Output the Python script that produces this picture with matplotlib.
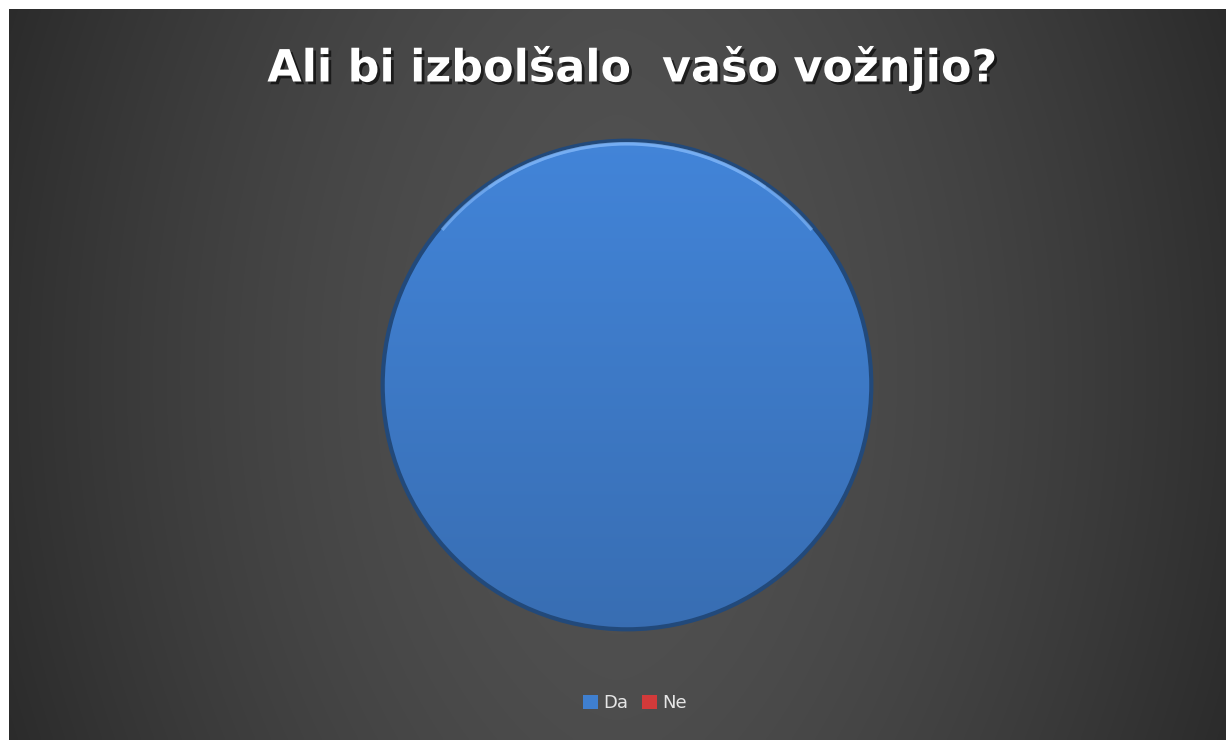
import matplotlib
matplotlib.use("Agg")
import matplotlib.pyplot as plt
import matplotlib.patheffects as pe
from matplotlib.patches import Patch, Circle, Arc
import numpy as np

# Data
categories = ["Da", "Ne"]
values = [100, 0]
colors = ["#3f7fcf", "#d23a3a"]
title = "Ali bi izbolšalo  vašo vožnjio?"

fig = plt.figure(figsize=(12.26, 7.40), dpi=100)
fig.patch.set_facecolor("white")

# dark background panel, lighter towards the middle
bg = fig.add_axes([9 / 1226, 0, 1 - 9 / 1226, 1 - 9 / 740])
xx, yy = np.meshgrid(np.linspace(-1, 1, 400), np.linspace(-1, 1, 250))
shade = 0.32 - 0.13 * np.abs(xx) ** 1.6 - 0.02 * yy ** 2
img = np.dstack([shade, shade, shade])
bg.imshow(img, aspect="auto", extent=[0, 1, 0, 1], interpolation="bilinear")
bg.axis("off")

# pie
r_px = 248
ax = fig.add_axes([(627 - r_px) / 1226, 1 - (385 + r_px) / 740, 2 * r_px / 1226, 2 * r_px / 740])
ax.set_facecolor("none")
nz = [v for v in values if v > 0]
nz_col = [c for v, c in zip(values, colors) if v > 0]
wedges, _ = ax.pie(nz, colors=nz_col, startangle=90, counterclock=False,
                   radius=1, wedgeprops=dict(linewidth=0))

# soft vertical shading on the slice (lighter top, darker bottom)
gy = np.linspace(1, 0, 200)[:, None]
top = np.array([0.26, 0.52, 0.85])
bot = np.array([0.22, 0.43, 0.70])
grad = (bot + (top - bot) * gy)[:, None, :] * np.ones((1, 2, 1))
for w in wedges:
    im = ax.imshow(grad, extent=[-1, 1, -1, 1], aspect="auto", interpolation="bilinear", zorder=2)
    im.set_clip_path(w)

ax.add_patch(Circle((0, 0), 0.995, fill=False, edgecolor="#22497a", linewidth=3, zorder=3))
for t1, t2, a in [(40, 140, 0.55), (55, 125, 0.35)]:
    ax.add_patch(Arc((0, 0), 1.965, 1.965, theta1=t1, theta2=t2, edgecolor="#8cc0ff",
                     linewidth=2.5, alpha=a, zorder=4))
ax.set_xlim(-1.01, 1.01)
ax.set_ylim(-1.01, 1.01)
ax.set_aspect("equal")
ax.axis("off")

fig.text(0.516, 1 - 68 / 740, title, ha="center", va="center", color="white",
         fontsize=32, fontweight="bold", family="DejaVu Sans",
         path_effects=[pe.withSimplePatchShadow(offset=(2, -2), shadow_rgbFace="black", alpha=0.6)])

handles = [Patch(facecolor=c, edgecolor="none") for c in colors]
leg = fig.legend(handles, categories, loc="center", bbox_to_anchor=(0.518, 1 - 703 / 740),
                 ncol=2, frameon=False, fontsize=13, labelcolor="#e6e6e6",
                 handlelength=0.8, handleheight=0.8, handletextpad=0.3, columnspacing=0.8)

fig.savefig("out.png", dpi=100, facecolor=fig.get_facecolor())
